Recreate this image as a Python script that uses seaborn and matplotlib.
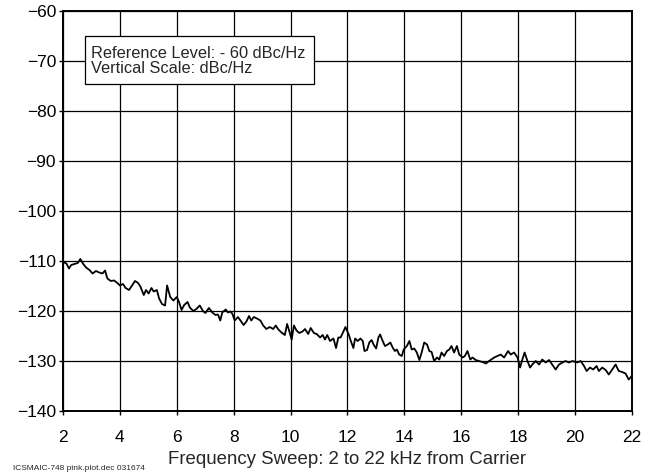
import numpy as np
import pandas as pd
import seaborn as sns
import matplotlib
matplotlib.use("Agg")
import matplotlib.pyplot as plt
from matplotlib.patches import Rectangle

# frequency offset from carrier (kHz)
freq_khz = [
    2.00, 2.12, 2.21, 2.29, 2.41, 2.52, 2.61, 2.70, 2.81, 2.93,
    3.04, 3.16, 3.27, 3.39, 3.48, 3.56, 3.68, 3.80, 3.91, 4.00,
    4.11, 4.20, 4.32, 4.43, 4.53, 4.64, 4.72, 4.84, 4.92, 5.01,
    5.11, 5.19, 5.30, 5.38, 5.48, 5.59, 5.66, 5.77, 5.88, 6.00,
    6.08, 6.17, 6.26, 6.38, 6.46, 6.58, 6.69, 6.81, 6.92, 7.01,
    7.13, 7.25, 7.36, 7.45, 7.53, 7.60, 7.72, 7.80, 7.88, 7.95,
    8.04, 8.15, 8.24, 8.35, 8.45, 8.54, 8.62, 8.71, 8.82, 8.94,
    9.04, 9.15, 9.27, 9.39, 9.48, 9.56, 9.68, 9.80, 9.88, 9.95,
    10.04, 10.12, 10.21, 10.31, 10.42, 10.51, 10.62, 10.71, 10.82, 10.92,
    11.04, 11.13, 11.21, 11.29, 11.39, 11.51, 11.60, 11.68, 11.76, 11.86,
    11.93, 12.04, 12.12, 12.21, 12.27, 12.36, 12.46, 12.54, 12.60, 12.69,
    12.77, 12.85, 12.92, 13.01, 13.09, 13.15, 13.24, 13.32, 13.42, 13.51,
    13.59, 13.67, 13.74, 13.82, 13.91, 13.98, 14.09, 14.18, 14.26, 14.35,
    14.44, 14.53, 14.61, 14.70, 14.80, 14.88, 14.96, 15.05, 15.15, 15.23,
    15.31, 15.40, 15.50, 15.58, 15.66, 15.75, 15.85, 15.93, 16.05, 16.13,
    16.22, 16.32, 16.40, 16.51, 16.63, 16.75, 16.87, 16.98, 17.16, 17.39,
    17.51, 17.65, 17.74, 17.86, 17.98, 18.07, 18.15, 18.23, 18.33, 18.42,
    18.50, 18.62, 18.74, 18.85, 18.97, 19.09, 19.20, 19.32, 19.44, 19.56,
    19.67, 19.79, 19.91, 20.08, 20.20, 20.32, 20.41, 20.53, 20.64, 20.76,
    20.84, 20.96, 21.08, 21.19, 21.31, 21.43, 21.54, 21.66, 21.78, 21.89,
    22.00,
]

# phase noise (dBc/Hz)
noise_dbc = [
    -110.2, -110.5, -111.5, -110.8, -110.6, -110.4, -109.6, -110.5, -111.3, -111.8,
    -112.5, -112.0, -112.3, -112.5, -111.9, -113.5, -114.0, -113.9, -114.4, -114.9,
    -114.6, -115.4, -115.8, -114.9, -114.0, -114.4, -115.1, -116.8, -115.8, -116.5,
    -115.4, -116.1, -115.8, -117.5, -118.6, -118.9, -114.9, -117.2, -117.9, -117.2,
    -118.2, -119.8, -118.8, -118.2, -119.3, -120.0, -119.6, -118.9, -120.0, -120.4,
    -119.4, -120.3, -120.8, -120.7, -121.9, -120.3, -119.7, -120.3, -120.1, -120.5,
    -121.9, -121.2, -121.9, -122.8, -122.1, -121.0, -121.9, -121.2, -121.5, -121.9,
    -122.9, -123.6, -123.2, -123.6, -122.9, -123.6, -124.3, -124.8, -122.6, -123.9,
    -125.7, -122.9, -123.9, -124.4, -124.1, -123.6, -124.6, -123.4, -124.4, -124.6,
    -125.3, -124.8, -125.7, -124.8, -126.0, -125.5, -127.4, -125.3, -125.3, -124.1,
    -123.2, -124.6, -126.0, -127.4, -125.5, -126.0, -125.5, -126.0, -128.0, -127.8,
    -126.3, -125.8, -126.7, -127.5, -125.3, -124.7, -126.0, -127.0, -126.7, -126.3,
    -127.3, -128.0, -127.7, -128.7, -129.0, -127.7, -127.0, -126.0, -127.7, -127.5,
    -128.3, -129.8, -128.3, -126.3, -126.7, -128.0, -128.2, -130.0, -129.3, -129.7,
    -128.3, -129.0, -128.0, -127.7, -127.0, -128.3, -127.0, -128.7, -129.3, -129.0,
    -128.0, -129.7, -129.3, -129.8, -130.0, -130.2, -130.5, -130.0, -129.3, -128.7,
    -129.3, -128.0, -128.7, -128.3, -129.3, -131.3, -129.7, -128.3, -130.0, -131.3,
    -130.7, -130.0, -130.7, -129.7, -130.3, -129.8, -130.7, -131.7, -130.7, -130.3,
    -130.0, -130.3, -130.0, -130.3, -130.0, -131.0, -132.0, -131.3, -131.7, -131.0,
    -132.0, -131.3, -131.8, -132.7, -131.7, -130.7, -132.0, -132.2, -132.5, -133.7,
    -133.0,
]

x_ticks = list(range(2, 23, 2))
y_ticks = list(range(-140, -59, 10))

box_lines = ["Reference Level: - 60 dBc/Hz", "Vertical Scale: dBc/Hz"]
x_title = "Frequency Sweep: 2 to 22 kHz from Carrier"
footer = "ICSMAIC-748 pink.plot.dec 031674"

df = pd.DataFrame({"freq": freq_khz, "noise": noise_dbc})

sns.set_style("ticks")
plt.rcParams["font.family"] = ["Liberation Sans", "DejaVu Sans"]

fig = plt.figure(figsize=(6.63, 4.73), dpi=100)
ax = fig.add_axes([0.095, 0.131, 0.858, 0.846])

sns.lineplot(data=df, x="freq", y="noise", color="black", linewidth=1.3, ax=ax, zorder=4)

ax.set_xlim(2, 22)
ax.set_ylim(-140, -60)
ax.set_xticks(x_ticks)
ax.set_yticks(y_ticks)
ax.set_yticklabels([f"\u2212{abs(v)}" for v in y_ticks])
ax.grid(True, color="black", linewidth=0.9)
ax.set_axisbelow(True)
for s in ax.spines.values():
    s.set_color("black")
    s.set_linewidth(1.4)
ax.tick_params(axis="both", labelsize=12.5, length=3, width=1, color="black",
               labelcolor="black")
ax.tick_params(axis="y", pad=2)
ax.tick_params(axis="x", pad=11)
ax.set_xlabel(x_title, fontsize=13.4, labelpad=4)
ax.set_ylabel("")

ax.add_patch(Rectangle((0.039, 0.818), 0.402, 0.12, transform=ax.transAxes,
                       facecolor="white", edgecolor="black", linewidth=0.9, zorder=5))
ax.text(0.049, 0.874, "\n".join(box_lines), transform=ax.transAxes, fontsize=11.8,
        va="center", ha="left", linespacing=1.0, zorder=6)

fig.text(0.02, 0.002, footer, fontsize=6, va="bottom", ha="left")

fig.savefig("out.png", dpi=100)
